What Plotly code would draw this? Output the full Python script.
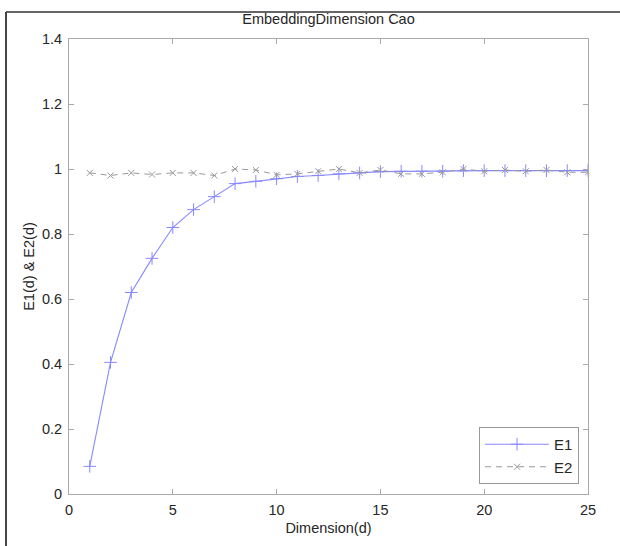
import plotly.graph_objects as go

dims = list(range(1, 26))
e1 = [0.085, 0.405, 0.62, 0.725, 0.82, 0.875, 0.915, 0.955, 0.962, 0.970,
      0.977, 0.980, 0.985, 0.988, 0.992, 0.993, 0.993, 0.993, 0.995, 0.995,
      0.995, 0.995, 0.995, 0.995, 0.995]
e2 = [0.988, 0.980, 0.988, 0.983, 0.988, 0.988, 0.980, 1.000, 0.997, 0.982,
      0.985, 0.993, 1.000, 0.988, 0.997, 0.985, 0.985, 0.990, 1.000, 0.993,
      0.997, 0.993, 0.997, 0.990, 0.990]
x_ticks = [0, 5, 10, 15, 20, 25]
y_ticks = [0, 0.2, 0.4, 0.6, 0.8, 1, 1.2, 1.4]
y_tick_labels = ["0", "0.2", "0.4", "0.6", "0.8", "1", "1.2", "1.4"]

font = "Liberation Sans, Arial, sans-serif"
txt = "#262626"

fig = go.Figure()
fig.add_trace(go.Scatter(
    x=dims, y=e1, name="E1", mode="lines+markers",
    line=dict(color="#8888ff", width=1.1),
    marker=dict(symbol="cross-thin-open", size=9, line=dict(color="#8080ff", width=1)),
))
fig.add_trace(go.Scatter(
    x=dims, y=e2, name="E2", mode="lines+markers",
    line=dict(color="#999999", width=1, dash="6px,5px"),
    marker=dict(symbol="x-thin-open", size=6, line=dict(color="#555555", width=1)),
))

axis_common = dict(
    showline=True, linecolor="#aaaaaa", linewidth=1, mirror="ticks",
    ticks="inside", ticklen=5, tickcolor="#aaaaaa",
    showgrid=False, zeroline=False, automargin=False,
    tickfont=dict(family=font, size=14.5, color=txt),
)

fig.update_layout(
    width=620, height=546,
    margin=dict(l=69, r=32, t=39, b=52),
    paper_bgcolor="white", plot_bgcolor="white",
    title=dict(text="EmbeddingDimension Cao", x=(69 + 588) / 2 / 620, xanchor="center",
               y=1 - 19 / 546, yanchor="middle",
               font=dict(family=font, size=14.5, color=txt)),
    xaxis=dict(range=[0, 25], tickvals=x_ticks, ticklabelstandoff=3,
               title=dict(text="Dimension(d)", standoff=5,
                          font=dict(family=font, size=14.5, color=txt)),
               **axis_common),
    yaxis=dict(range=[0, 1.4], tickvals=y_ticks, ticktext=y_tick_labels,
               ticklabelstandoff=3,
               title=dict(text="E1(d) &amp; E2(d)", standoff=3,
                          font=dict(family=font, size=14.5, color=txt)),
               **axis_common),
    legend=dict(x=(579 - 69) / 519, y=(494 - 484) / 455, xanchor="right", yanchor="bottom",
                bordercolor="#999999", borderwidth=1, bgcolor="white",
                font=dict(family=font, size=15, color=txt),
                itemwidth=64, tracegroupgap=4),
    showlegend=True,
)

# outer image frame (top and left border)
fig.add_shape(type="line", xref="paper", yref="paper",
              x0=(6 - 69) / 519, x1=(620 - 69) / 519,
              y0=(494 - 12) / 455, y1=(494 - 12) / 455,
              line=dict(color="#666666", width=2))
fig.add_shape(type="line", xref="paper", yref="paper",
              x0=(6 - 69) / 519, x1=(6 - 69) / 519,
              y0=(494 - 12) / 455, y1=(494 - 546) / 455,
              line=dict(color="#444444", width=2))

fig.write_html("out.html")
